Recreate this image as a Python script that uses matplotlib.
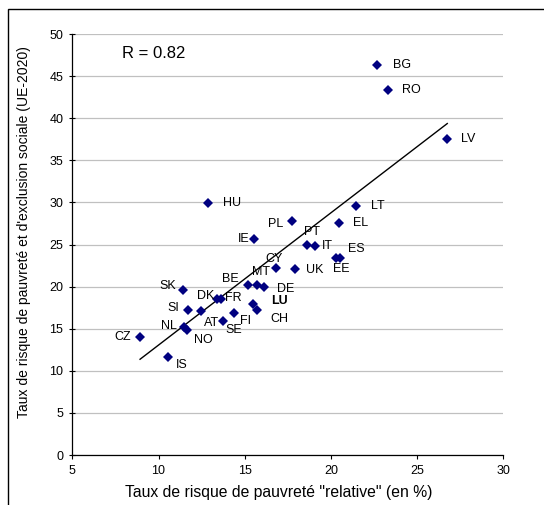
import numpy as np
import matplotlib
matplotlib.use("Agg")
import matplotlib.pyplot as plt
from matplotlib.patches import Rectangle

plt.rcParams['font.family'] = ['Liberation Sans', 'DejaVu Sans']

countries = ["BG", "RO", "LV", "HU", "LT", "PL", "EL", "IE", "PT", "IT",
             "ES", "EE", "CY", "UK", "BE", "MT", "DE", "SK", "DK", "FR",
             "LU", "CH", "SI", "AT", "FI", "SE", "NL", "NO", "CZ", "IS"]
poverty_rate = [22.65, 23.3, 26.75, 12.85, 21.46, 17.76, 20.49, 15.56, 18.6, 19.08,
                20.53, 20.3, 16.8, 17.92, 15.17, 15.7, 16.14, 11.4, 13.41, 13.61,
                15.5, 15.7, 11.74, 12.47, 14.38, 13.76, 11.5, 11.65, 8.93, 10.57]
exclusion_rate = [46.3, 43.3, 37.5, 29.9, 29.6, 27.8, 27.6, 25.7, 24.9, 24.8,
                  23.4, 23.4, 22.2, 22.1, 20.15, 20.15, 20.0, 19.56, 18.53, 18.53,
                  17.9, 17.2, 17.22, 17.1, 16.9, 15.95, 15.2, 14.8, 13.98, 11.6]
x_ticks = [5, 10, 15, 20, 25, 30]
y_ticks = [0, 5, 10, 15, 20, 25, 30, 35, 40, 45, 50]
r_text = "R = 0.82"
x_title = 'Taux de risque de pauvreté "relative" (en %)'
y_title = "Taux de risque de pauvreté et d'exclusion sociale (UE-2020)"

# label placement (pixel offsets, ha)
label_pos = {
    "BG": (16, 0, "left"), "RO": (14, 0, "left"), "LV": (14, 0, "left"),
    "HU": (15, 0, "left"), "LT": (15, 0, "left"), "PL": (-9, -3, "right"),
    "EL": (14, 0, "left"), "IE": (-5, 0, "right"), "PT": (5, 13, "center"),
    "IT": (7, 0, "left"), "ES": (8, 9, "left"), "EE": (5, -11, "center"),
    "CY": (-2, 9, "center"), "UK": (11, -1, "left"), "BE": (-17, 6, "center"),
    "MT": (4, 13, "center"), "DE": (13, -2, "left"), "SK": (-7, 4, "right"),
    "DK": (-3, 3, "right"), "FR": (4, 1, "left"), "LU": (18, 3, "left"),
    "CH": (14, -9, "left"), "SI": (-9, 2, "right"), "AT": (10, -12, "center"),
    "FI": (11, -8, "center"), "SE": (10, -9, "center"), "NL": (-7, 1, "right"),
    "NO": (16, -10, "center"), "CZ": (-9, 0, "right"), "IS": (13, -8, "center"),
}

W, H = 544, 505
fig = plt.figure(figsize=(W / 100, H / 100), dpi=100)
fig.patch.set_facecolor("white")
fig.patches.append(Rectangle((8 / W, -0.05), 1.2, (H - 9) / H + 0.05,
                             transform=fig.transFigure, fill=False,
                             edgecolor="black", linewidth=1.0))

ax = fig.add_axes([72.3 / W, 50 / H, 431 / W, 421 / H])
ax.set_xlim(5, 30)
ax.set_ylim(0, 50)
ax.set_xticks(x_ticks)
ax.set_yticks(y_ticks)
ax.tick_params(axis="both", labelsize=9, length=3, width=0.8, colors="black")
ax.tick_params(axis="y", direction="inout", length=5, pad=4)
ax.tick_params(axis="x", direction="out", pad=4)
for s in ["top", "right"]:
    ax.spines[s].set_visible(False)
for s in ["left", "bottom"]:
    ax.spines[s].set_linewidth(0.9)
ax.yaxis.grid(True, color="#c0c0c0", linewidth=0.9)
ax.set_axisbelow(True)

xs = np.array(poverty_rate)
ys = np.array(exclusion_rate)
b, a = np.polyfit(xs, ys, 1)
xl = np.array([xs.min(), xs.max()])
ax.plot(xl, a + b * xl, color="black", linewidth=1.0, zorder=2)

ax.plot(xs, ys, linestyle="none", marker="D", markersize=4.8,
        color="#000080", markeredgewidth=0, zorder=3)

for c, x, y in zip(countries, xs, ys):
    dx, dy, ha = label_pos[c]
    ax.annotate(c, (x, y), xytext=(dx, dy), textcoords="offset pixels",
                ha=ha, va="center", fontsize=9,
                fontweight="bold" if c == "LU" else "normal", zorder=4)

fig.text(121.7 / W, 1 - 53.3 / H, r_text, ha="left", va="center", fontsize=12)

fig.text(279 / W, 1 - 493 / H, x_title, ha="center", va="center", fontsize=11.3)
fig.text(24.5 / W, 1 - 232.5 / H, y_title, ha="center", va="center",
         rotation=90, fontsize=10)

fig.savefig("out.png", dpi=100)
